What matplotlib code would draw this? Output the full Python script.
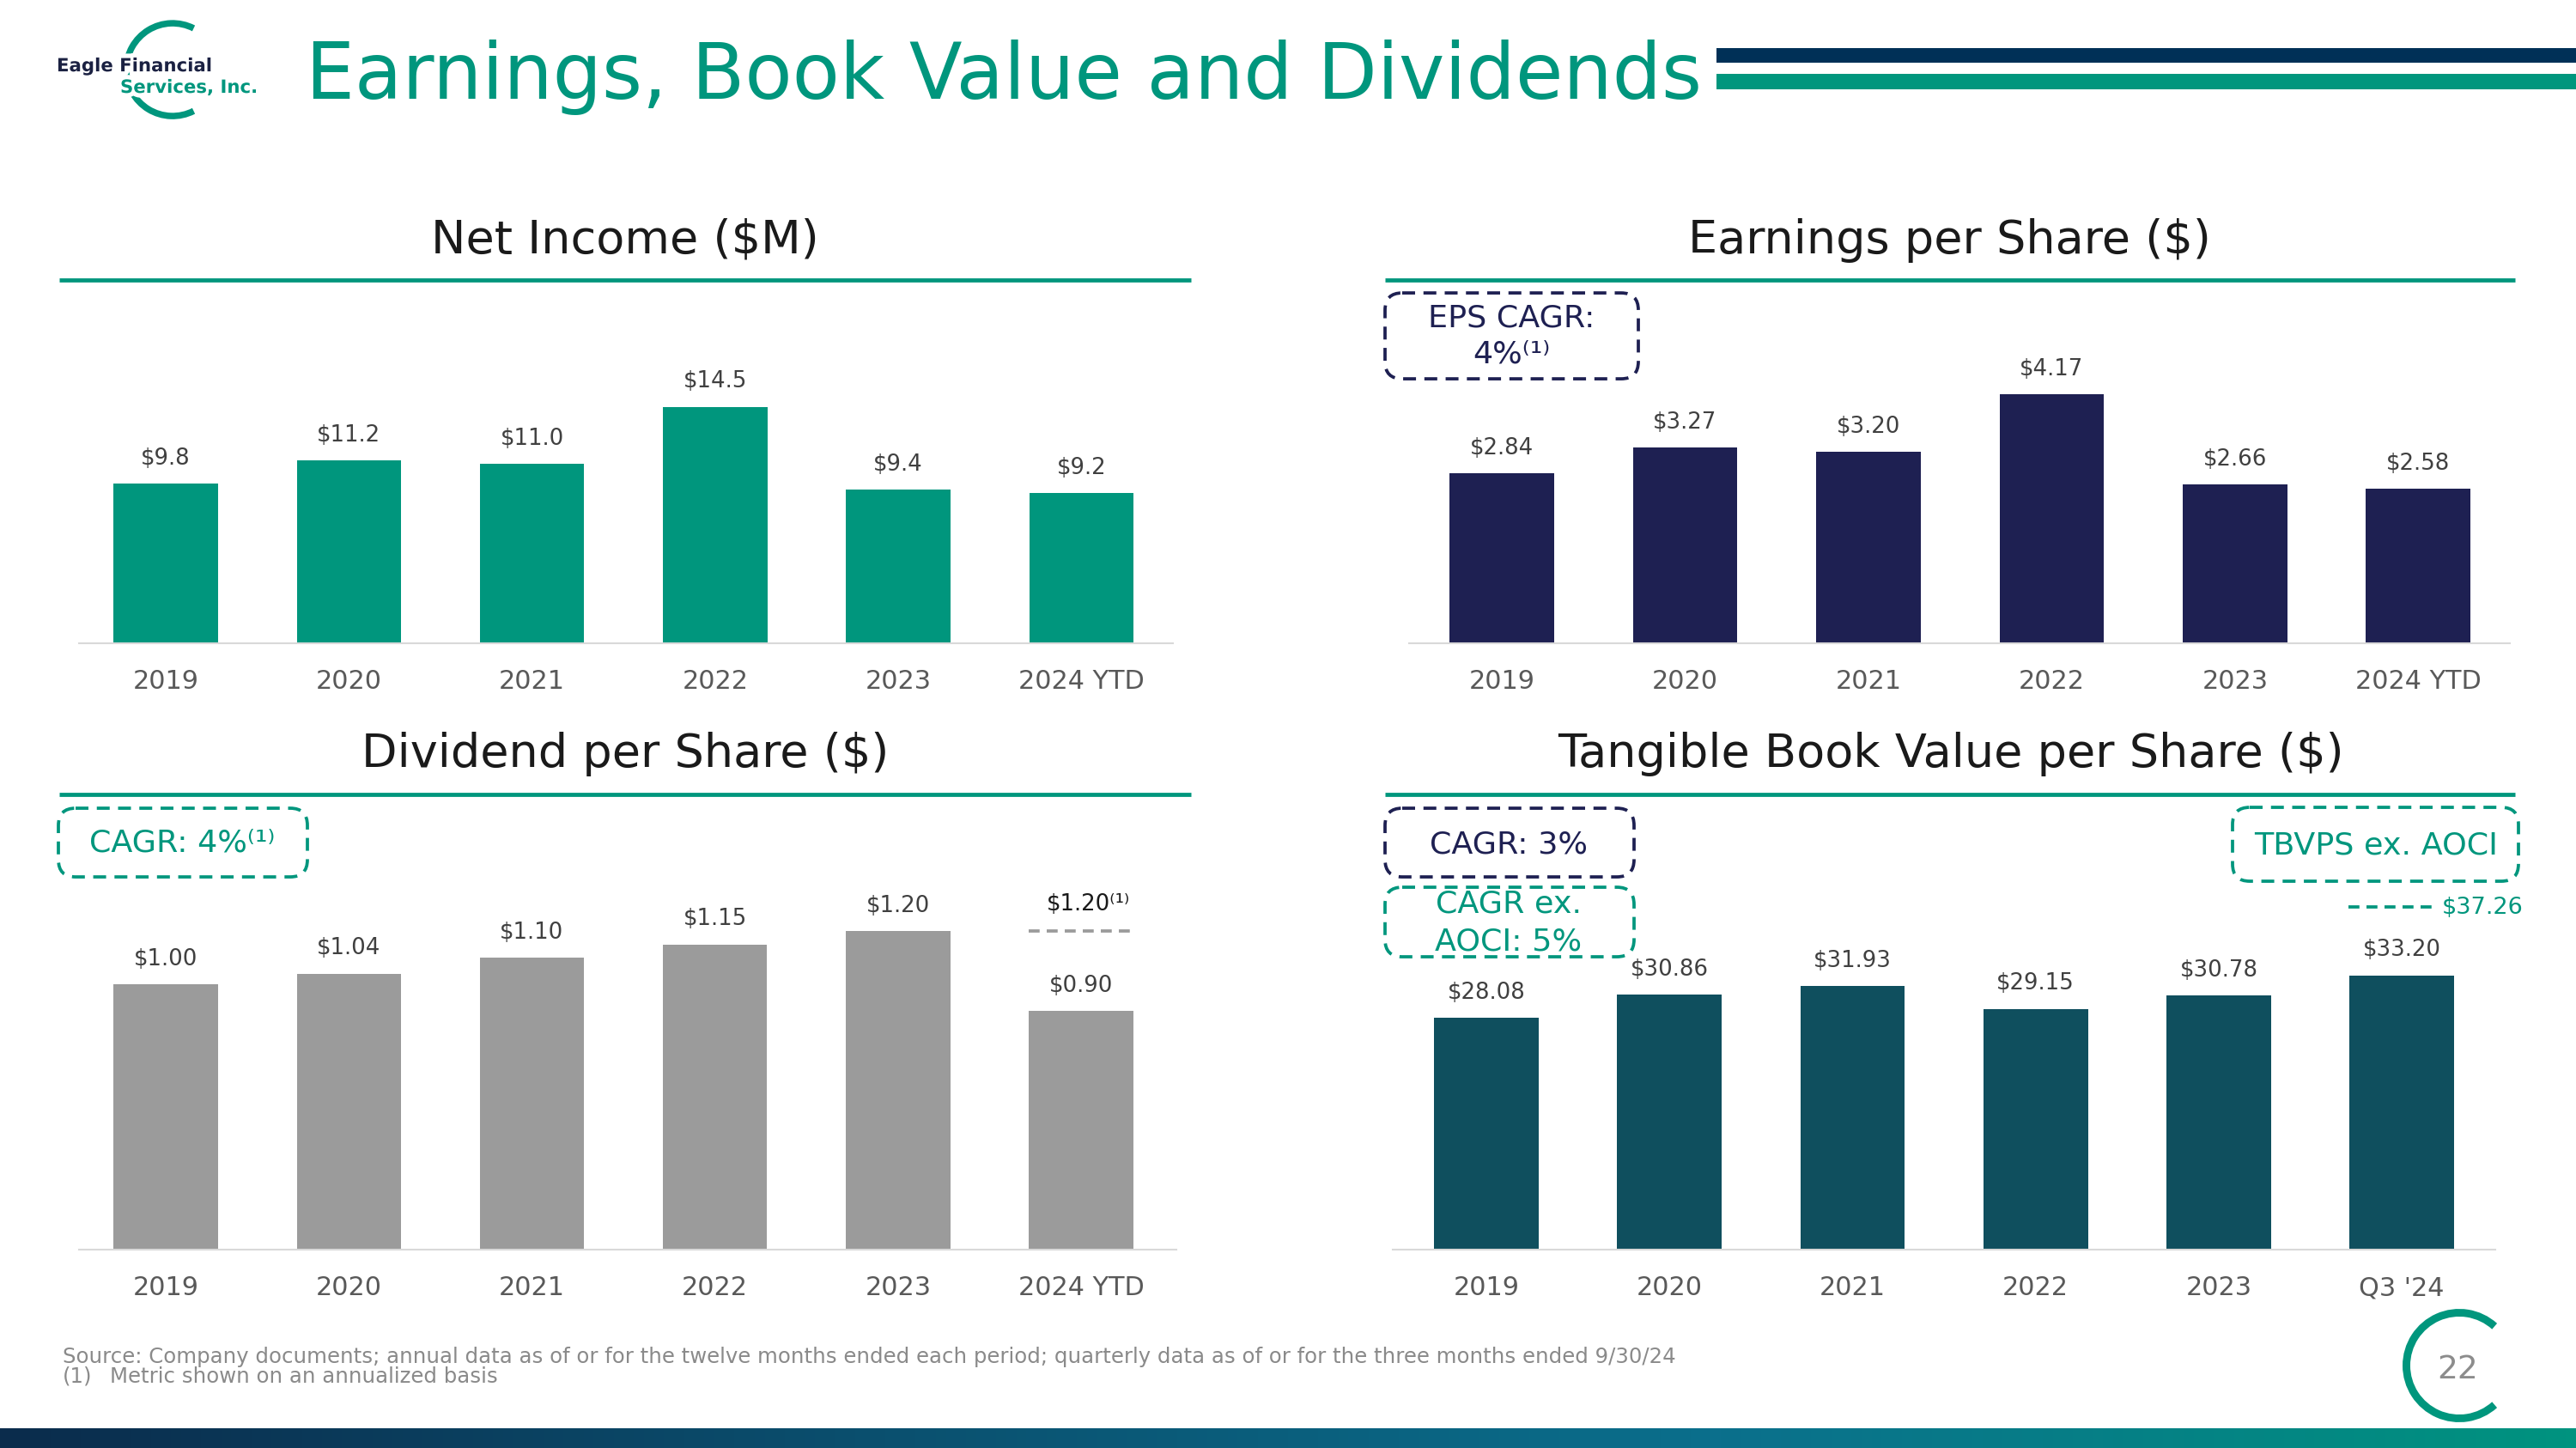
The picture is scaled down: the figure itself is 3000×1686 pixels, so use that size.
import numpy as np
import matplotlib.pyplot as plt
import matplotlib.patheffects as pe
from matplotlib.patches import Rectangle, FancyBboxPatch, Arc
from matplotlib.colors import LinearSegmentedColormap
from matplotlib.transforms import offset_copy

# --- data -------------------------------------------------------------
years = ['2019', '2020', '2021', '2022', '2023', '2024 YTD']
tbv_years = ['2019', '2020', '2021', '2022', '2023', "Q3 '24"]
net_income = [9.8, 11.2, 11.0, 14.5, 9.4, 9.2]
eps = [2.84, 3.27, 3.20, 4.17, 2.66, 2.58]
dps = [1.00, 1.04, 1.10, 1.15, 1.20, 0.90]
dps_annualized = 1.20
tbvps = [28.08, 30.86, 31.93, 29.15, 30.78, 33.20]
tbvps_ex_aoci = 37.26

# --- colours ----------------------------------------------------------
TEAL = '#00967d'
NAVY = '#003057'
INDIGO = '#1e2052'
GRAY_BAR = '#9b9b9b'
DARK_TEAL = '#0f4f5e'
TXT = '#1a1a1a'

plt.rcParams['font.family'] = ['DejaVu Sans']

W, H = 3000, 1687
fig = plt.figure(figsize=(20, 11.246), dpi=150)

# overlay in pixel coordinates (origin top-left)
ov = fig.add_axes([0, 0, 1, 1], zorder=0)
ov.axis('off')

# header lines
ov.add_patch(Rectangle((1999, 57), 1001, 17, color=NAVY, lw=0))
ov.add_patch(Rectangle((1999, 87), 1001, 18, color=TEAL, lw=0))

# title
ov.text(356, 115, 'Earnings, Book Value and Dividends', fontsize=43.3,
        color=TEAL, ha='left', va='baseline')

# logo
ov.add_patch(Arc((201, 82), 108, 108, theta1=63, theta2=297, color=TEAL, lw=3.6))
halo = [pe.withStroke(linewidth=5, foreground='white')]
ov.text(66, 78, 'Eagle Financial', fontsize=10.2, fontweight='bold', color='#1b2142',
        ha='left', va='center', path_effects=halo)
ov.text(140, 103, 'Services, Inc.', fontsize=10.2, fontweight='bold', color=TEAL,
        ha='left', va='center', path_effects=halo)

# panel titles + underlines
titles = [('Net Income ($M)', 728, 295, 69, 1387, 327),
          ('Earnings per Share ($)', 2270, 295, 1613, 2929, 327),
          ('Dividend per Share ($)', 728, 893, 69, 1387, 926),
          ('Tangible Book Value per Share ($)', 2272, 893, 1613, 2929, 926)]
for t, cx, by, x0, x1, ly in titles:
    ov.text(cx, by, t, fontsize=26, color=TXT, ha='center', va='baseline')
    ov.plot([x0, x1], [ly, ly], color=TEAL, lw=2.3, solid_capstyle='butt')


def dashed_box(x, y, w, h, color):
    ov.add_patch(FancyBboxPatch((x, y), w, h,
                                boxstyle='round,pad=0,rounding_size=20',
                                fill=False, ec=color, lw=1.8,
                                ls=(0, (4.0, 2.6))))


dashed_box(1613, 342, 295, 100, INDIGO)
ov.text(1760, 371, 'EPS CAGR:', fontsize=17.5, color=INDIGO, ha='center', va='center')
ov.text(1760, 413, '4%\u207d\u00b9\u207e', fontsize=17.5, color=INDIGO, ha='center', va='center')

dashed_box(68, 942, 290, 80, TEAL)
ov.text(212, 982, 'CAGR: 4%\u207d\u00b9\u207e', fontsize=17.5, color=TEAL, ha='center', va='center')

dashed_box(1613, 942, 290, 80, INDIGO)
ov.text(1757, 984, 'CAGR: 3%', fontsize=17.5, color=INDIGO, ha='center', va='center')

dashed_box(1613, 1034, 290, 81, TEAL)
ov.text(1757, 1053, 'CAGR ex.', fontsize=17.5, color=TEAL, ha='center', va='center')
ov.text(1757, 1097, 'AOCI: 5%', fontsize=17.5, color=TEAL, ha='center', va='center')

dashed_box(2600, 941, 333, 86, TEAL)
ov.text(2767, 985, 'TBVPS ex. AOCI', fontsize=17.5, color=TEAL, ha='center', va='center')

# footer
foot = dict(fontsize=11.7, color='#8a8a8a', ha='left', va='center')
ov.text(73, 1580, 'Source: Company documents; annual data as of or for the twelve months '
        'ended each period; quarterly data as of or for the three months ended 9/30/24', **foot)
ov.text(73, 1603, '(1)', **foot)
ov.text(128, 1603, 'Metric shown on an annualized basis', **foot)

# page marker
ov.add_patch(Arc((2864, 1591), 123, 123, theta1=48, theta2=312, color=TEAL, lw=4.3))
ov.text(2862, 1595, '22', fontsize=18, color='#8c8c8c', ha='center', va='center')

# bottom gradient bar
grad = LinearSegmentedColormap.from_list('bar', ['#0b2c4c', '#0a4f6e', '#0b6f8c', '#00937f'])
ov.imshow(np.linspace(0, 1, 256)[None, :], cmap=grad, aspect='auto',
          extent=[0, W, 1687, 1664], zorder=1)

ov.set_xlim(0, W)
ov.set_ylim(H, 0)


# --- bar panels ---------------------------------------------------------
def px_axes(x0, y_top, w, h):
    return fig.add_axes([x0 / W, (H - y_top - h) / H, w / W, h / H], zorder=2)


def bar_panel(rect, xlim, ytop, labels, values, color, fmt):
    ax = px_axes(*rect)
    x = np.arange(len(values))
    ax.bar(x, values, width=0.57, color=color, zorder=2)
    ax.set_xlim(*xlim)
    ax.set_ylim(0, ytop)
    ax.set_xticks(x, labels)
    ax.tick_params(axis='x', length=0, pad=14, labelsize=14.5, labelcolor='#595959')
    ax.set_yticks([])
    for s in ['top', 'right', 'left']:
        ax.spines[s].set_visible(False)
    ax.spines['bottom'].set_color('#d9d9d9')
    ax.spines['bottom'].set_linewidth(1.0)
    ax.patch.set_alpha(0)
    for xi, v in zip(x, values):
        ax.annotate(fmt.format(v), (xi, v), xytext=(0, 14.5), textcoords='offset points',
                    ha='center', va='center', fontsize=12.5, color='#404040')
    return ax


ax_ni = bar_panel((92, 380, 1274, 370), (-0.474, 5.5), 370 / 19.0, years, net_income,
                  TEAL, '${:.1f}')
ax_eps = bar_panel((1641, 380, 1282, 370), (-0.506, 5.5), 370 / 69.6, years, eps,
                   INDIGO, '${:.2f}')
ax_dps = bar_panel((92, 960, 1278, 496), (-0.474, 5.52), 496 / 309.0, years, dps,
                   GRAY_BAR, '${:.2f}')
ax_tbv = bar_panel((1622, 960, 1284, 496), (-0.511, 5.51), 496 / 9.62, tbv_years, tbvps,
                   DARK_TEAL, '${:.2f}')

# annualized dividend marker
ax_dps.hlines(dps_annualized, 5 - 0.285, 5 + 0.285, colors='#9b9b9b', lw=1.8,
              linestyles=(0, (3.4, 2.2)))
ax_dps.annotate('${:.2f}'.format(dps_annualized) + '\u207d\u00b9\u207e', (5.04, dps_annualized),
                xytext=(0, 15.5), textcoords='offset points', ha='center', va='center',
                fontsize=12.5, color=TXT)

# TBVPS ex. AOCI marker
tr = offset_copy(ax_tbv.transData, fig=fig, y=19.5, units='points')
ax_tbv.plot([4.71, 5.18], [tbvps_ex_aoci, tbvps_ex_aoci], transform=tr, color=TEAL,
            lw=1.8, ls=(0, (3.4, 2.2)), clip_on=False)
ax_tbv.text(5.22, tbvps_ex_aoci, '${:.2f}'.format(tbvps_ex_aoci), transform=tr,
            fontsize=13, color=TEAL, ha='left', va='center', clip_on=False)

fig.savefig('out.png', dpi=150)
